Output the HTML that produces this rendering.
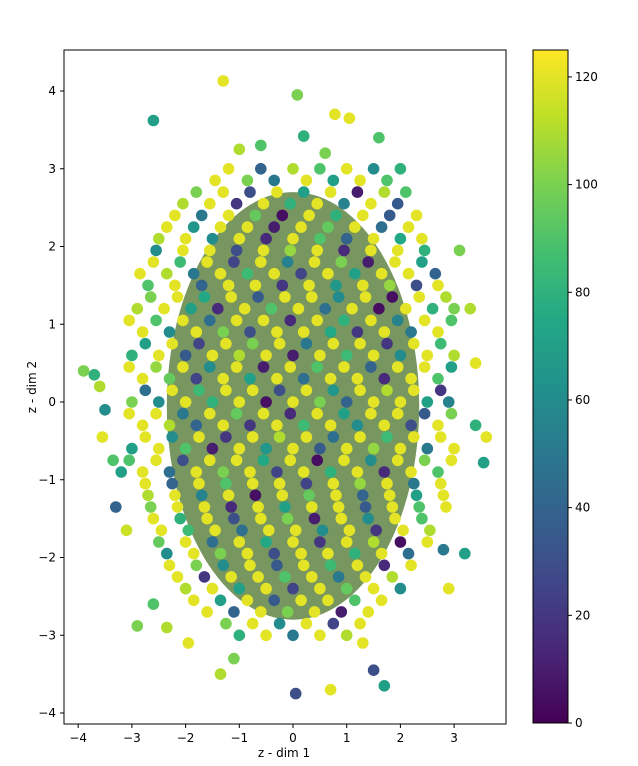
<!DOCTYPE html>
<html><head><meta charset="utf-8"><style>
body{margin:0;background:#fff;}
svg{display:block;font-family:"DejaVu Sans","Liberation Sans",sans-serif;}
</style></head><body>
<svg id="chart" width="638" height="766" viewBox="0 0 638 766">
<defs><linearGradient id="vir" x1="0" y1="1" x2="0" y2="0">
<stop offset="0" stop-color="#440154"/><stop offset="0.1" stop-color="#482475"/><stop offset="0.2" stop-color="#414487"/><stop offset="0.3" stop-color="#355f8d"/><stop offset="0.4" stop-color="#2a788e"/><stop offset="0.5" stop-color="#21918c"/><stop offset="0.6" stop-color="#22a884"/><stop offset="0.7" stop-color="#44bf70"/><stop offset="0.8" stop-color="#7ad151"/><stop offset="0.9" stop-color="#bddf26"/><stop offset="1" stop-color="#fde725"/>
</linearGradient>
<clipPath id="pc"><rect x="64" y="50" width="442" height="674"/></clipPath></defs>
<rect x="64" y="50" width="442" height="674" fill="#fff"/>
<g id="pts" clip-path="url(#pc)"></g>
<rect x="64" y="50" width="442" height="674" fill="none" stroke="#000" stroke-width="1"/>
<g id="axes"></g>
<text x="284" y="757" font-size="12" text-anchor="middle">z - dim 1</text>
<text x="36" y="387" font-size="12" text-anchor="middle" transform="rotate(-90 36 387)">z - dim 2</text>
<rect x="533" y="50" width="35" height="673" fill="url(#vir)" stroke="#000" stroke-width="1"/>
<g id="cbar"></g>
</svg>
<script>
const xTicks=[-4,-3,-2,-1,0,1,2,3];
const yTicks=[-4,-3,-2,-1,0,1,2,3,4];
const cTicks=[0,20,40,60,80,100,120];
const outX=[-3.9,-3.7,-3.6,-3.5,-3.55,-3.3,-3.35,-3.2,-2.9,-2.35,-1.95,-1.3,-1.35,0.05,0.7,0.08,0.78,1.05,-3.1,-2.6,3.6,3.55,3.2,3.1,3.3,3.4,3.4,2.9,1.7,1.5,-2.6,1.6,2.0,-1.0,0.2,0.6,-0.6,-1.1,1.3,2.8];
const outY=[0.4,0.35,0.2,-0.1,-0.45,-1.35,-0.75,-0.9,-2.88,-2.9,-3.1,4.13,-3.5,-3.75,-3.7,3.95,3.7,3.65,-1.65,-2.6,-0.45,-0.78,-1.95,1.95,1.2,0.5,-0.3,-2.4,-3.65,-3.45,3.62,3.4,3.0,3.25,3.42,3.2,3.3,-3.3,-3.1,-1.9];
const outV=[100,80,110,60,120,40,90,70,100,110,120,120,110,30,120,100,120,120,115,90,120,70,70,100,110,120,80,120,70,30,70,90,80,110,80,100,90,100,120,50];
const coreX=[-1.2,-0.6,0,0.5,1.0,1.5,
-1.8,-1.3,-0.8,-0.3,0.2,0.7,1.2,1.7,2.1,
-2.2,-1.7,-1.2,-0.7,-0.2,0.3,0.8,1.3,1.8,2.3,
-2.5,-2.0,-1.5,-1.0,-0.5,0,0.5,1.0,1.5,2.0,2.4,
-2.6,-2.1,-1.6,-1.1,-0.6,-0.1,0.4,0.9,1.4,1.9,2.4,
-2.7,-2.2,-1.7,-1.2,-0.7,-0.2,0.3,0.8,1.3,1.8,2.3,2.7,
-2.9,-2.4,-1.9,-1.4,-0.9,-0.4,0.1,0.6,1.1,1.6,2.1,2.6,3.0,
-2.8,-2.3,-1.8,-1.3,-0.8,-0.3,0.2,0.7,1.2,1.7,2.2,2.7,
-3.0,-2.5,-2.0,-1.5,-1.0,-0.5,0,0.5,1.0,1.5,2.0,2.5,3.0,
-2.8,-2.3,-1.8,-1.3,-0.8,-0.3,0.2,0.7,1.2,1.7,2.2,2.7,
-3.0,-2.5,-2.0,-1.5,-1.0,-0.5,0,0.5,1.0,1.5,2.0,2.5,2.9,
-2.8,-2.3,-1.8,-1.3,-0.8,-0.3,0.2,0.7,1.2,1.7,2.2,2.7,
-3.0,-2.5,-2.0,-1.5,-1.0,-0.5,0,0.5,1.0,1.5,2.0,2.5,3.0,
-2.8,-2.3,-1.8,-1.3,-0.8,-0.3,0.2,0.7,1.2,1.7,2.2,2.7,
-2.7,-2.2,-1.7,-1.2,-0.7,-0.2,0.3,0.8,1.3,1.8,2.3,2.8,
-2.6,-2.1,-1.6,-1.1,-0.6,-0.1,0.4,0.9,1.4,1.9,2.4,
-2.5,-2.0,-1.5,-1.0,-0.5,0,0.5,1.0,1.5,2.0,2.5,
-2.3,-1.8,-1.3,-0.8,-0.3,0.2,0.7,1.2,1.7,2.2,
-2.0,-1.5,-1.0,-0.5,0,0.5,1.0,1.5,2.0,
-1.6,-1.1,-0.6,-0.1,0.4,0.9,1.4,
-1.0,-0.5,0,0.5,1.0];
const coreY=[3.0,3.0,3.0,3.0,3.0,3.0,
2.7,2.7,2.7,2.7,2.7,2.7,2.7,2.7,2.7,
2.4,2.4,2.4,2.4,2.4,2.4,2.4,2.4,2.4,2.4,
2.1,2.1,2.1,2.1,2.1,2.1,2.1,2.1,2.1,2.1,2.1,
1.8,1.8,1.8,1.8,1.8,1.8,1.8,1.8,1.8,1.8,1.8,
1.5,1.5,1.5,1.5,1.5,1.5,1.5,1.5,1.5,1.5,1.5,1.5,
1.2,1.2,1.2,1.2,1.2,1.2,1.2,1.2,1.2,1.2,1.2,1.2,1.2,
0.9,0.9,0.9,0.9,0.9,0.9,0.9,0.9,0.9,0.9,0.9,0.9,
0.6,0.6,0.6,0.6,0.6,0.6,0.6,0.6,0.6,0.6,0.6,0.6,0.6,
0.3,0.3,0.3,0.3,0.3,0.3,0.3,0.3,0.3,0.3,0.3,0.3,
0,0,0,0,0,0,0,0,0,0,0,0,0,
-0.3,-0.3,-0.3,-0.3,-0.3,-0.3,-0.3,-0.3,-0.3,-0.3,-0.3,-0.3,
-0.6,-0.6,-0.6,-0.6,-0.6,-0.6,-0.6,-0.6,-0.6,-0.6,-0.6,-0.6,-0.6,
-0.9,-0.9,-0.9,-0.9,-0.9,-0.9,-0.9,-0.9,-0.9,-0.9,-0.9,-0.9,
-1.2,-1.2,-1.2,-1.2,-1.2,-1.2,-1.2,-1.2,-1.2,-1.2,-1.2,-1.2,
-1.5,-1.5,-1.5,-1.5,-1.5,-1.5,-1.5,-1.5,-1.5,-1.5,-1.5,
-1.8,-1.8,-1.8,-1.8,-1.8,-1.8,-1.8,-1.8,-1.8,-1.8,-1.8,
-2.1,-2.1,-2.1,-2.1,-2.1,-2.1,-2.1,-2.1,-2.1,-2.1,
-2.4,-2.4,-2.4,-2.4,-2.4,-2.4,-2.4,-2.4,-2.4,
-2.7,-2.7,-2.7,-2.7,-2.7,-2.7,-2.7,
-3.0,-3.0,-3.0,-3.0,-3.0];
const coreV=[120,40,110,90,120,60,
100,120,30,120,70,120,10,110,90,
120,50,120,95,5,120,80,120,35,120,
110,120,60,120,15,120,90,40,120,75,120,
120,85,120,25,120,55,120,100,10,120,70,
90,120,40,120,120,20,120,65,120,105,30,120,
110,120,70,15,120,90,120,45,120,5,120,80,100,
120,60,120,100,30,120,120,75,20,120,50,120,
80,120,35,120,110,120,10,120,85,120,60,120,110,
120,95,25,120,70,120,45,120,120,15,120,90,
100,60,120,80,120,5,120,100,40,120,120,70,55,
120,110,40,120,20,120,85,120,60,120,30,120,
70,120,90,10,120,65,120,35,120,105,120,50,120,
120,45,120,100,120,25,120,80,120,15,120,90,
110,120,55,120,5,120,95,120,40,120,70,120,
120,80,120,30,120,100,10,120,60,120,90,
95,120,45,120,75,120,20,120,110,5,120,
120,100,60,120,35,120,85,120,15,120,
110,120,70,120,25,120,95,120,60,
120,40,120,100,120,10,120,
80,120,50,120,110];
const mid2X=[-1.45,-0.85,-0.35,0.25,0.75,1.25,1.75,
-2.05,-1.55,-1.05,-0.55,-0.05,0.45,0.95,1.45,1.95,
-2.35,-1.85,-1.35,-0.85,-0.35,0.15,0.65,1.15,1.65,2.15,
-2.55,-2.05,-1.55,-1.05,-0.55,-0.05,0.45,0.95,1.45,1.95,2.45,
-2.85,-2.35,-1.85,-1.35,-0.85,-0.35,0.15,0.65,1.15,1.65,2.15,2.65,
-2.65,-2.15,-1.65,-1.15,-0.65,-0.15,0.35,0.85,1.35,1.85,2.35,2.85,
-3.05,-2.55,-2.05,-1.55,-1.05,-0.55,-0.05,0.45,0.95,1.45,1.95,2.45,2.95,
-2.75,-2.25,-1.75,-1.25,-0.75,-0.25,0.25,0.75,1.25,1.75,2.25,2.75,
-3.05,-2.55,-2.05,-1.55,-1.05,-0.55,-0.05,0.45,0.95,1.45,1.95,2.45,2.95,
-2.75,-2.25,-1.75,-1.25,-0.75,-0.25,0.25,0.75,1.25,1.75,2.25,2.75,
-3.05,-2.55,-2.05,-1.55,-1.05,-0.55,-0.05,0.45,0.95,1.45,1.95,2.45,2.95,
-2.75,-2.25,-1.75,-1.25,-0.75,-0.25,0.25,0.75,1.25,1.75,2.25,2.75,
-3.05,-2.55,-2.05,-1.55,-1.05,-0.55,-0.05,0.45,0.95,1.45,1.95,2.45,2.95,
-2.75,-2.25,-1.75,-1.25,-0.75,-0.25,0.25,0.75,1.25,1.75,2.25,2.75,
-2.65,-2.15,-1.65,-1.15,-0.65,-0.15,0.35,0.85,1.35,1.85,2.35,2.85,
-2.45,-1.95,-1.45,-0.95,-0.45,0.05,0.55,1.05,1.55,2.05,2.55,
-2.35,-1.85,-1.35,-0.85,-0.35,0.15,0.65,1.15,1.65,2.15,
-2.15,-1.65,-1.15,-0.65,-0.15,0.35,0.85,1.35,1.85,
-1.85,-1.35,-0.85,-0.35,0.15,0.65,1.15,1.65,
-1.25,-0.75,-0.25,0.25,0.75,1.25];
const mid2Y=[2.85,2.85,2.85,2.85,2.85,2.85,2.85,
2.55,2.55,2.55,2.55,2.55,2.55,2.55,2.55,2.55,
2.25,2.25,2.25,2.25,2.25,2.25,2.25,2.25,2.25,2.25,
1.95,1.95,1.95,1.95,1.95,1.95,1.95,1.95,1.95,1.95,1.95,
1.65,1.65,1.65,1.65,1.65,1.65,1.65,1.65,1.65,1.65,1.65,1.65,
1.35,1.35,1.35,1.35,1.35,1.35,1.35,1.35,1.35,1.35,1.35,1.35,
1.05,1.05,1.05,1.05,1.05,1.05,1.05,1.05,1.05,1.05,1.05,1.05,1.05,
0.75,0.75,0.75,0.75,0.75,0.75,0.75,0.75,0.75,0.75,0.75,0.75,
0.45,0.45,0.45,0.45,0.45,0.45,0.45,0.45,0.45,0.45,0.45,0.45,0.45,
0.15,0.15,0.15,0.15,0.15,0.15,0.15,0.15,0.15,0.15,0.15,0.15,
-0.15,-0.15,-0.15,-0.15,-0.15,-0.15,-0.15,-0.15,-0.15,-0.15,-0.15,-0.15,-0.15,
-0.45,-0.45,-0.45,-0.45,-0.45,-0.45,-0.45,-0.45,-0.45,-0.45,-0.45,-0.45,
-0.75,-0.75,-0.75,-0.75,-0.75,-0.75,-0.75,-0.75,-0.75,-0.75,-0.75,-0.75,-0.75,
-1.05,-1.05,-1.05,-1.05,-1.05,-1.05,-1.05,-1.05,-1.05,-1.05,-1.05,-1.05,
-1.35,-1.35,-1.35,-1.35,-1.35,-1.35,-1.35,-1.35,-1.35,-1.35,-1.35,-1.35,
-1.65,-1.65,-1.65,-1.65,-1.65,-1.65,-1.65,-1.65,-1.65,-1.65,-1.65,
-1.95,-1.95,-1.95,-1.95,-1.95,-1.95,-1.95,-1.95,-1.95,-1.95,
-2.25,-2.25,-2.25,-2.25,-2.25,-2.25,-2.25,-2.25,-2.25,
-2.55,-2.55,-2.55,-2.55,-2.55,-2.55,-2.55,-2.55,
-2.85,-2.85,-2.85,-2.85,-2.85,-2.85];
const mid2V=[120,100,50,120,70,120,90,
110,120,20,120,80,120,55,120,35,
120,65,120,120,10,120,95,120,45,120,
60,120,120,30,120,105,120,15,120,120,80,
120,110,50,120,85,120,25,120,70,120,120,40,
100,120,75,120,35,120,120,60,120,5,120,110,
120,90,120,45,120,120,15,120,80,120,55,120,90,
70,120,25,120,100,120,50,120,120,20,120,85,
120,105,120,60,120,10,120,90,120,40,120,120,70,
45,120,85,120,120,30,120,65,120,110,120,20,
120,120,50,120,95,120,15,120,70,120,120,35,100,
120,60,120,20,120,110,120,45,120,85,120,120,
90,120,30,120,120,75,120,5,120,60,120,100,120,
120,40,120,90,120,120,25,120,105,120,50,120,
100,120,120,15,120,70,120,120,35,120,90,120,
120,85,120,45,120,120,60,120,20,120,110,
60,120,100,120,30,120,120,80,120,45,
120,20,120,120,90,120,50,120,110,
120,70,120,35,120,120,90,120,
100,120,60,120,25,120];
const stops=[[68,1,84],[72,36,117],[65,68,135],[53,95,141],[42,120,142],[33,145,140],[34,168,132],[68,191,112],[122,209,81],[189,223,38],[253,231,37]];
function viridis(v){let t=Math.max(0,Math.min(1,v/125))*10;let i=Math.min(9,Math.floor(t));let f=t-i;const a=stops[i],b=stops[i+1];return 'rgb('+a.map((c,k)=>Math.round(c+(b[k]-c)*f)).join(',')+')';}
const sx=x=>293+x*53.7, sy=y=>402-y*77.75, sc=v=>723-v*(673/125);
const NS='http://www.w3.org/2000/svg';
function mk(t,a,p){const e=document.createElementNS(NS,t);for(const k in a)e.setAttribute(k,a[k]);p.appendChild(e);return e;}
const pts=document.getElementById('pts'),ax=document.getElementById('axes'),cb=document.getElementById('cbar');
const bg=mk('ellipse',{cx:sx(0),cy:sy(-0.05),rx:2.35*53.7,ry:2.75*77.75,fill:'rgb(120,150,95)'},pts);


function drawSet(X,Y,V){for(let i=0;i<X.length;i++){const c=mk('circle',{cx:sx(X[i]).toFixed(1),cy:sy(Y[i]).toFixed(1),r:5.8,fill:viridis(V[i])},pts);

}}
drawSet(coreX,coreY,coreV);drawSet(mid2X,mid2Y,mid2V);drawSet(outX,outY,outV);
xTicks.forEach(t=>{mk('line',{x1:sx(t),x2:sx(t),y1:724,y2:728,stroke:'#000'},ax);const tx=mk('text',{x:sx(t),y:742,'font-size':12,'text-anchor':'middle'},ax);tx.textContent=t<0?'\u2212'+(-t):t;

});
yTicks.forEach(t=>{mk('line',{x1:60,x2:64,y1:sy(t),y2:sy(t),stroke:'#000'},ax);const tx=mk('text',{x:56,y:sy(t)+4,'font-size':12,'text-anchor':'end'},ax);tx.textContent=t<0?'\u2212'+(-t):t;

});
cTicks.forEach(t=>{mk('line',{x1:568,x2:572,y1:sc(t),y2:sc(t),stroke:'#000'},cb);const tx=mk('text',{x:575,y:sc(t)+4,'font-size':12},cb);tx.textContent=t;

});
</script>
</body></html>
